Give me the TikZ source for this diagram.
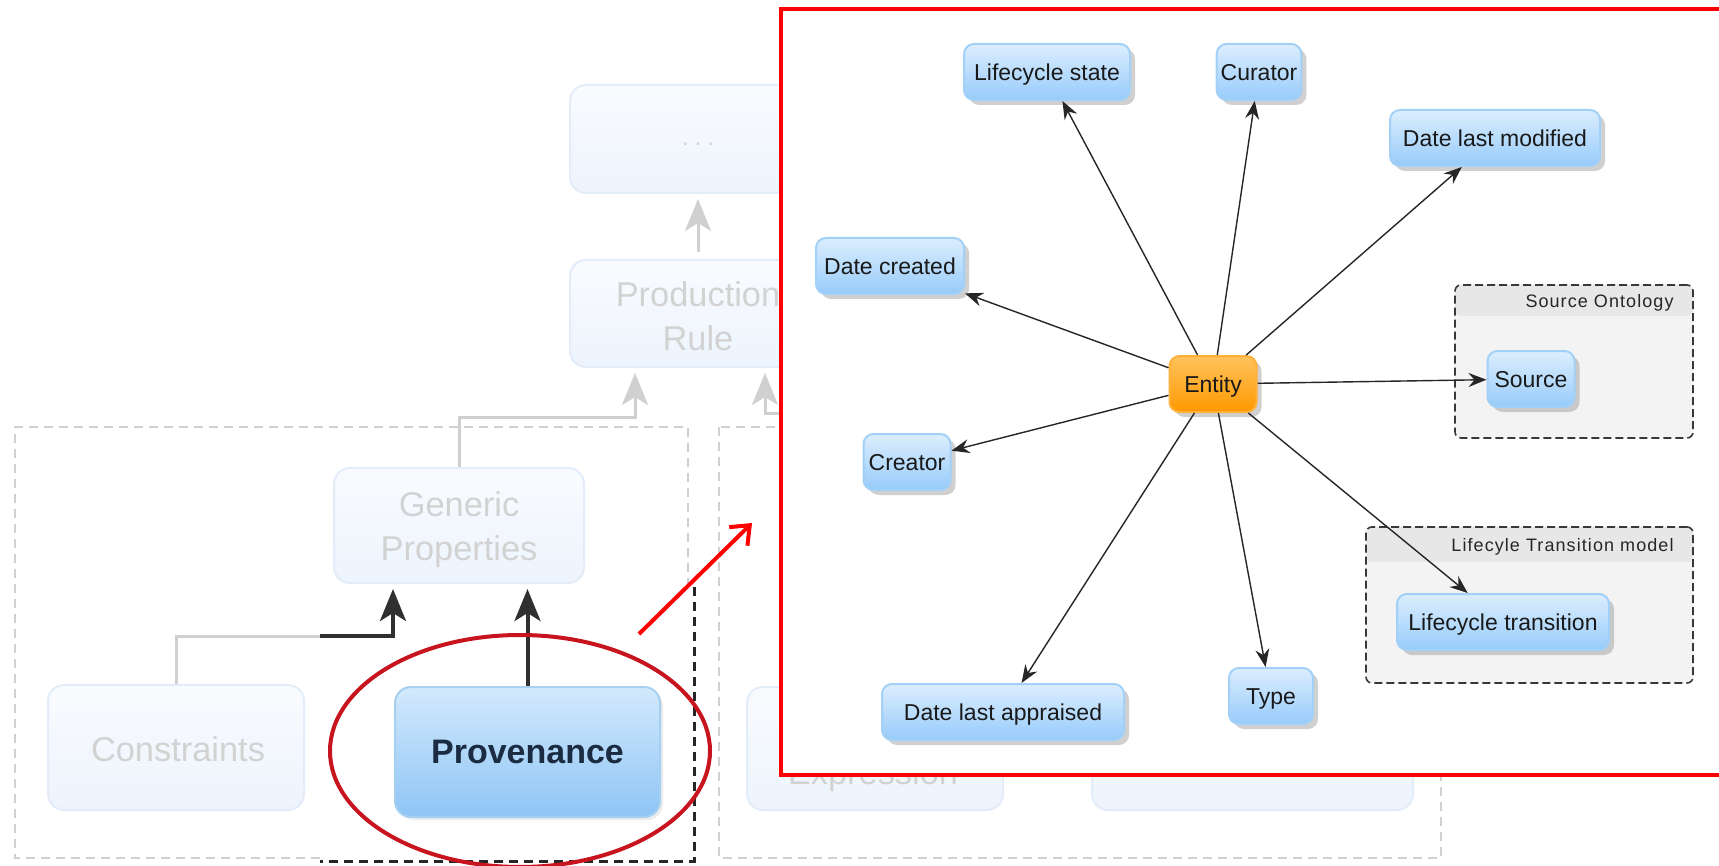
\documentclass[tikz,border=0pt]{standalone}
\usepackage{fontspec}
\setmainfont{Liberation Sans}
\usetikzlibrary{arrows.meta,shadows,calc}

% faded layer model
\definecolor{fadeText}{HTML}{D2D2D2}
\definecolor{fadeLine}{HTML}{D0D0D0}
\definecolor{fadeTop}{HTML}{F9FBFE}
\definecolor{fadeBot}{HTML}{EDF4FD}
\definecolor{fadeEdge}{HTML}{E3EDF9}
\definecolor{dashGray}{HTML}{D0D0D0}
\definecolor{darkLine}{HTML}{303030}
% highlighted element
\definecolor{provTop}{HTML}{D3E9FC}
\definecolor{provBot}{HTML}{8EC5F5}
\definecolor{provEdge}{HTML}{A6D0F2}
\definecolor{provText}{HTML}{1B2C42}
\definecolor{ringRed}{HTML}{C8141E}
% ontology graph
\definecolor{nodeTop}{HTML}{DCEEFE}
\definecolor{nodeBot}{HTML}{97CBFA}
\definecolor{nodeEdge}{HTML}{A2D0F6}
\definecolor{entTop}{HTML}{FFC35C}
\definecolor{entBot}{HTML}{FF9800}
\definecolor{entEdge}{HTML}{FFB13B}
\definecolor{grpFill}{HTML}{F3F3F3}
\definecolor{grpHead}{HTML}{E7E7E7}
\definecolor{grpEdge}{HTML}{383838}
\definecolor{edgeInk}{HTML}{262626}

\begin{document}
\begin{tikzpicture}[x=0.5pt,y=-0.5pt,
  faded/.style={draw=fadeEdge, line width=1pt, rounded corners=8pt,
    top color=fadeTop, bottom color=fadeBot, inner sep=0pt},
  fadedlabel/.style={text=fadeText, font=\fontsize{17.2}{22}\selectfont,
    align=center, inner sep=0pt},
  fadedline/.style={draw=fadeLine, line width=1.5pt},
  fadedarrow/.style={fadedline, -{Stealth[length=16pt,width=13pt,inset=4pt]}},
  darkarrow/.style={draw=darkLine, line width=2pt, -{Stealth[length=16pt,width=13pt,inset=4pt]}},
  groupdash/.style={draw=dashGray, line width=1pt, dash pattern=on 4.5pt off 3pt},
  darkdash/.style={draw=black!85, line width=1.5pt, dash pattern=on 4.5pt off 3pt},
  provbox/.style={draw=provEdge, line width=1pt, rounded corners=8pt,
    top color=provTop, bottom color=provBot, text=provText,
    font=\fontsize{17}{20}\selectfont\bfseries, inner sep=0pt,
    drop shadow={shadow xshift=1.5pt, shadow yshift=-1.5pt, opacity=0.15}},
  concept/.style={draw=nodeEdge, line width=1pt, rounded corners=5pt,
    top color=nodeTop, bottom color=nodeBot, text=black!90,
    font=\fontsize{11.5}{14}\selectfont, inner xsep=2pt, inner ysep=0pt,
    text height=8.4pt, text depth=0pt, minimum height=28pt,
    drop shadow={shadow xshift=2.5pt, shadow yshift=-2.5pt, opacity=0.3, fill=black!60}},
  entity/.style={concept, draw=entEdge, top color=entTop, bottom color=entBot},
  groupbox/.style={draw=grpEdge, line width=0.8pt, dash pattern=on 4pt off 2pt,
    rounded corners=3pt, fill=grpFill, inner sep=0pt,
    path picture={\fill[grpHead] (path picture bounding box.north west)
      rectangle ([yshift=-#1]path picture bounding box.north east);}},
  grouptitle/.style={font=\fontsize{9}{11}\selectfont\addfontfeatures{LetterSpace=6},
    text=black!85, inner sep=0pt},
  link/.style={draw=edgeInk, line width=0.7pt, -{Stealth[length=9pt,width=7pt,inset=3pt]}}
]
\useasboundingbox (0,0) rectangle (1719,866);
\fill[white] (0,0) rectangle (1719,866);

% ---------------- faded layer model ----------------
\draw[groupdash] (320,858) -- (15,858) -- (15,427) -- (688,427) -- (688,587);
\draw[groupdash] (719,427) rectangle (1441,858);

\node[faded, minimum width=128pt, minimum height=54pt] (dots) at (698,139) {};
\node[fadedlabel, font=\fontsize{12}{12}\selectfont\addfontfeatures{LetterSpace=25}] (dotstext) at (698,144) {...};
\node[faded, minimum width=128pt, minimum height=53.5pt] (prod) at (698,313.5) {};
\node[fadedlabel] (prodtext) at (698,316) {Production\\Rule};
\node[faded, minimum width=125pt, minimum height=57.5pt] (generic) at (459,525.5) {};
\node[fadedlabel] (generictext) at (459,530) {Generic\\Properties};
\node[faded, minimum width=128pt, minimum height=62.5pt] (constr) at (176,747.5) {};
\node[fadedlabel] (constrtext) at (178,749) {Constraints};
\node[faded, minimum width=128pt, minimum height=61.5pt] (exprbox) at (875,748.5) {};
\node[faded, minimum width=160.5pt, minimum height=61.5pt] (otherbox) at (1252.5,748.5) {};
\node[fadedlabel, anchor=base] (exprtext) at (873,784) {Expression};

\draw[fadedarrow, shorten <=3.5pt, shorten >=2.5pt] (prod.north) -- (dots.south);
\coordinate (j1) at (635,417);
\draw[fadedarrow, shorten >=2.5pt] (generic.north) |- (j1) -- (j1 |- prod.south);
\coordinate (j2r) at (800,413);
\coordinate (j2) at (765,413);
\draw[fadedarrow, shorten >=2.5pt] (j2r) -- (j2) -- (j2 |- prod.south);

% ---------------- highlighted element ----------------
\coordinate (c1) at (320,636);
\coordinate (c2) at (393,636);
\draw[fadedline] (constr.north) |- (c1);
\draw[darkarrow, shorten >=2.5pt] (c1) -- (c2) -- (c2 |- generic.south);

\node[provbox, minimum width=132.5pt, minimum height=65pt] (prov) at (527.5,752) {Provenance};
\draw[darkarrow, shorten >=2.5pt] (prov.north) -- (prov.north |- generic.south);
\draw[darkdash] (694,587) -- (694,861) -- (320,861);

\draw[ringRed, line width=2pt] (520,751) ellipse [x radius=95pt, y radius=58pt];

\coordinate (zs) at (639,634);
\coordinate (zt) at (752,523);
\draw[red, line width=2pt, -{Straight Barb[length=8pt,width=13pt]}] (zs) -- (zt);

% ---------------- zoomed ontology view ----------------
\draw[red, line width=2pt, fill=white] (781,9) rectangle (1730,775);

\node[groupbox=15.5pt, minimum width=119pt, minimum height=76.5pt] (srcgrp) at (1574,361.5) {};
\node[grouptitle, anchor=east] (srctitle) at (1674,303) {Source Ontology};
\node[groupbox=17.5pt, minimum width=163.5pt, minimum height=78pt] (lctgrp) at (1529.5,605) {};
\node[grouptitle, anchor=east] (lcttitle) at (1674,547) {Lifecyle Transition model};

\node[entity, minimum width=43.5pt] (entity) at (1213,384) {Entity};
\node[concept, minimum width=83pt]   (lcs)     at (1047,72)  {Lifecycle state};
\node[concept, minimum width=42pt]   (curator) at (1259,72)  {Curator};
\node[concept, minimum width=105pt]  (dlm)     at (1495,138) {Date last modified};
\node[concept, minimum width=74pt]   (dcr)     at (890,266)  {Date created};
\node[concept, minimum width=43.5pt] (creator) at (907,462)  {Creator};
\node[concept, minimum width=121pt]  (dla)     at (1003,712) {Date last appraised};
\node[concept, minimum width=42pt]   (type)    at (1271,696) {Type};
\node[concept, minimum width=106pt]  (lct)     at (1503,622) {Lifecycle transition};
\node[concept, minimum width=43.5pt] (source)  at (1531,379) {Source};

\foreach \t in {lcs,curator,dlm,dcr,creator,dla,type,lct,source}
  \draw[link] (entity) -- (\t);
\end{tikzpicture}
\end{document}
